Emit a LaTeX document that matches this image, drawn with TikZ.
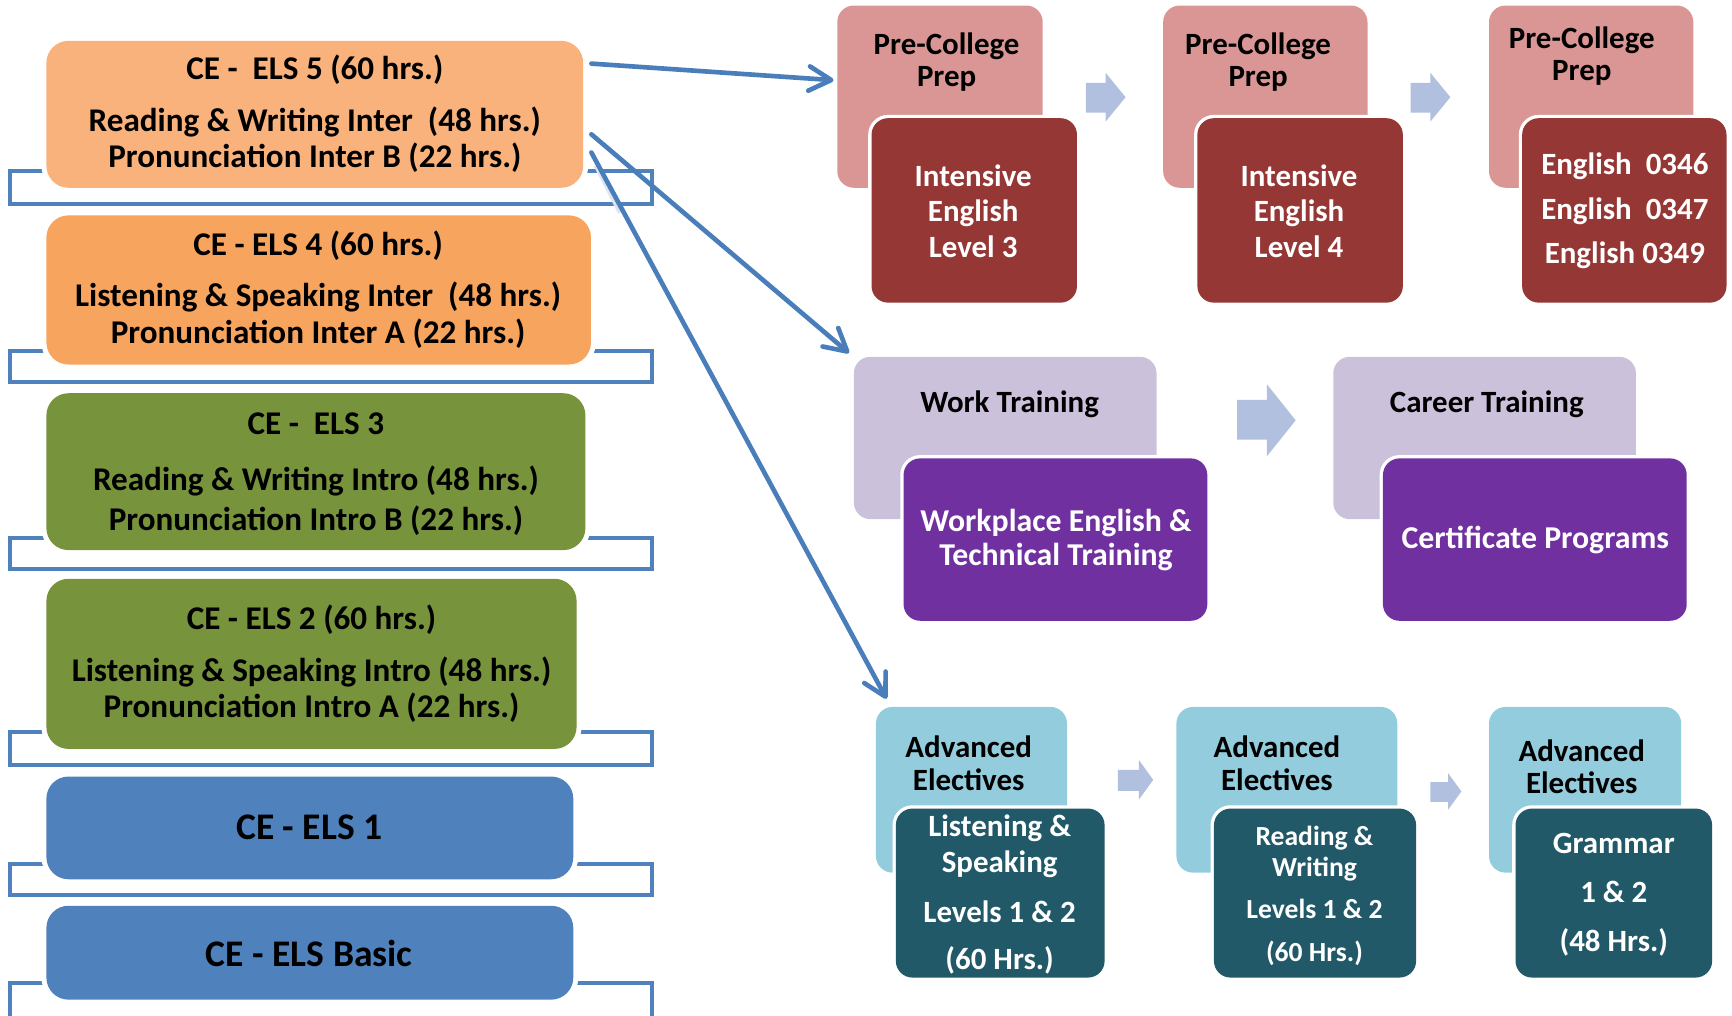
\documentclass[tikz,border=0pt]{standalone}
\usepackage{fontspec}
\setmainfont{Carlito}
\usetikzlibrary{arrows.meta,fit,calc}
\definecolor{orA}{HTML}{F9B27B}
\definecolor{orB}{HTML}{F7A45F}
\definecolor{grn}{HTML}{77933C}
\definecolor{blu}{HTML}{4F81BD}
\definecolor{brk}{HTML}{4F81BD}
\definecolor{conn}{HTML}{4A7EBB}
\definecolor{pinkL}{HTML}{D99694}
\definecolor{redD}{HTML}{953735}
\definecolor{lavL}{HTML}{CCC1DA}
\definecolor{purD}{HTML}{7030A0}
\definecolor{aquaL}{HTML}{93CDDD}
\definecolor{tealD}{HTML}{215968}
\definecolor{barrow}{HTML}{B0C0DE}
\definecolor{faint}{HTML}{DCE6F2}
\newcommand\lvlfont{\fontsize{15}{16.5}\selectfont\bfseries}
\newcommand\bigfont{\fontsize{17}{19}\selectfont\bfseries}
\newcommand\rfont{\fontsize{14}{14.5}\selectfont\bfseries}
\newcommand\dfont{\fontsize{14}{16}\selectfont\bfseries}
\begin{document}
\begin{tikzpicture}[x=0.5pt,y=-0.5pt,
  bracket/.style={draw=brk,line width=1.8pt},
  lvl/.style={rounded corners=10pt,inner sep=0pt,
    preaction={draw=white,line width=4.5pt}},
  lvltxt/.style={align=center,font=\lvlfont,inner sep=0pt,text=black},
  lightbox/.style={rounded corners=7.5pt,inner sep=0pt},
  darkbox/.style={rounded corners=7.5pt,inner sep=0pt,
    preaction={draw=white,line width=3pt}},
  ttl/.style={align=center,font=\rfont,text=black,inner sep=0pt},
  dtxt/.style={align=center,font=\dfont,text=white,inner sep=0pt},
  conn/.style={draw=conn,line width=2.1pt,line cap=round,
    -{Straight Barb[length=10pt,width=11pt,line width=2.1pt,line cap=round,line join=round]}},
  blockarrow/.style={fill=barrow,draw=none}]
\useasboundingbox (0,0) rectangle (1568,919);
\clip (0,0) rectangle (1568,919);

% brackets
\draw[bracket] (9,155) rectangle (590,185);
\draw[bracket] (9,318) rectangle (590,346);
\draw[bracket] (9,487) rectangle (590,515);
\draw[bracket] (9,663) rectangle (590,693);
\draw[bracket] (9,782) rectangle (590,810);
\draw[bracket] (9,890) rectangle (590,940);

% level boxes
\node[lvl,fill=orA,fit={(42,37) (528,170)}] (els5) {};
\node[lvl,fill=orB,fit={(42,195) (535,330)}] (els4) {};
\node[lvl,fill=grn,fit={(42,356) (530,498)}] (els3) {};
\node[lvl,fill=grn,fit={(42,524) (522,678)}] (els2) {};
\node[lvl,fill=blu,fit={(42,703) (519,796)}] (els1) {};
\node[lvl,fill=blu,fit={(42,820) (519,905)}] (elsb) {};
\node[lvltxt] (els5t) at (285,103)
  {CE -\ \ ELS 5 (60 hrs.)\\[7pt]Reading \& Writing Inter\ \ (48 hrs.)\\Pronunciation Inter B (22 hrs.)};
\node[lvltxt] (els4t) at (288,262)
  {CE - ELS 4 (60 hrs.)\\[7pt]Listening \& Speaking Inter\ \ (48 hrs.)\\Pronunciation Inter A (22 hrs.)};
\node[lvltxt] (els3t) at (286,429)
  {CE -\ \ ELS 3\\[9pt]Reading \& Writing Intro (48 hrs.)\\[1.5pt]Pronunciation Intro B (22 hrs.)};
\node[lvltxt] (els2t) at (282,601)
  {CE - ELS 2 (60 hrs.)\\[7pt]Listening \& Speaking Intro (48 hrs.)\\Pronunciation Intro A (22 hrs.)};
\node[lvltxt,font=\bigfont] (els1t) at (280,749) {CE - ELS 1};
\node[lvltxt,font=\bigfont] (elsbt) at (280,863) {CE - ELS Basic};

% pre-college row
\node[lightbox,fill=pinkL,fit={(758,5) (944,170)}] (pc1) {};
\node[darkbox,fill=redD,fit={(789,107) (975,274)}] (ie3) {};
\node[lightbox,fill=pinkL,fit={(1053,5) (1238,170)}] (pc2) {};
\node[darkbox,fill=redD,fit={(1084,107) (1270,274)}] (ie4) {};
\node[lightbox,fill=pinkL,fit={(1348,5) (1533,170)}] (pc3) {};
\node[darkbox,fill=redD,fit={(1378,107) (1563,274)}] (eng) {};
\node[ttl] (pc1t) at (857,56) {Pre-College\\Prep};
\node[ttl] (pc2t) at (1139,56) {Pre-College\\Prep};
\node[ttl] (pc3t) at (1432,51) {Pre-College\\Prep};
\node[dtxt] (ie3t) at (881,191) {Intensive\\English\\Level 3};
\node[dtxt] (ie4t) at (1176,191) {Intensive\\English\\Level 4};
\node[dtxt,font=\fontsize{14}{20.2}\selectfont\bfseries] (engt) at (1471,191) {English\ \ 0346\\English\ \ 0347\\English 0349};

% work / career row
\node[lightbox,fill=lavL,fit={(773,323) (1047,470)}] (wt) {};
\node[darkbox,fill=purD,fit={(818,415) (1093,562)}] (wp) {};
\node[lightbox,fill=lavL,fit={(1207,323) (1481,470)}] (ct) {};
\node[darkbox,fill=purD,fit={(1252,415) (1527,562)}] (cp) {};
\node[ttl] (wtt) at (914,366) {Work Training};
\node[ttl] (ctt) at (1346,366) {Career Training};
\node[dtxt,font=\fontsize{14.4}{15.6}\selectfont\bfseries] (wpt) at (956,489) {Workplace English \&\\Technical Training};
\node[dtxt,font=\fontsize{14.4}{15.6}\selectfont\bfseries] (cpt) at (1390,489) {Certificate Programs};

% advanced electives row
\node[lightbox,fill=aquaL,fit={(793,640) (966,790)}] (ae1) {};
\node[darkbox,fill=tealD,fit={(811,732) (1000,885)}] (ls) {};
\node[lightbox,fill=aquaL,fit={(1065,640) (1265,790)}] (ae2) {};
\node[darkbox,fill=tealD,fit={(1099,732) (1282,885)}] (rw) {};
\node[lightbox,fill=aquaL,fit={(1348,640) (1522,790)}] (ae3) {};
\node[darkbox,fill=tealD,fit={(1372,732) (1550,885)}] (gr) {};
\node[ttl] (ae1t) at (877,691) {Advanced\\Electives};
\node[ttl] (ae2t) at (1156,691) {Advanced\\Electives};
\node[ttl] (ae3t) at (1432,694) {Advanced\\Electives};
\node[dtxt] (lst) at (905,810) {Listening \&\\Speaking\\[6.5pt]Levels 1 \& 2\\[5.5pt](60 Hrs.)};
\node[dtxt,font=\fontsize{12.5}{14}\selectfont\bfseries] (rwt) at (1190,811) {Reading \&\\Writing\\[5pt]Levels 1 \& 2\\[5.5pt](60 Hrs.)};
\node[dtxt,font=\fontsize{14}{22}\selectfont\bfseries] (grt) at (1461,810) {Grammar\\1 \& 2\\(48 Hrs.)};

% block arrows
\fill[blockarrow] (983,75) -- (1001,75) -- (1001,66) -- (1019,88) -- (1001,110) -- (1001,102) -- (983,102) -- cycle;
\fill[blockarrow] (1277,75) -- (1295,75) -- (1295,66) -- (1313,88) -- (1295,110) -- (1295,102) -- (1277,102) -- cycle;
\fill[blockarrow] (1120,362) -- (1147,362) -- (1147,348) -- (1173,380.5) -- (1147,413) -- (1147,398) -- (1120,398) -- cycle;
\fill[blockarrow] (1012,697) -- (1031,697) -- (1031,688) -- (1044,706) -- (1031,724) -- (1031,716) -- (1012,716) -- cycle;
\fill[blockarrow] (1295,708) -- (1311,708) -- (1311,700) -- (1323,716.5) -- (1311,733) -- (1311,726) -- (1295,726) -- cycle;

% connectors
\draw[faint,line width=2pt] ([shift={(11,113)}]els5.north east) -- ([shift={(33,156)}]els5.north east);
\draw[conn] ([shift={(7,21)}]els5.north east) -- ([shift={(-3,68)}]pc1.north west);
\draw[conn] ([shift={(7,85)}]els5.north east) -- ([shift={(-4,-3)}]wt.north west);
\draw[conn] ([shift={(7,101.5)}]els5.north east) -- ([shift={(10,-7)}]ae1.north west);
\end{tikzpicture}
\end{document}
